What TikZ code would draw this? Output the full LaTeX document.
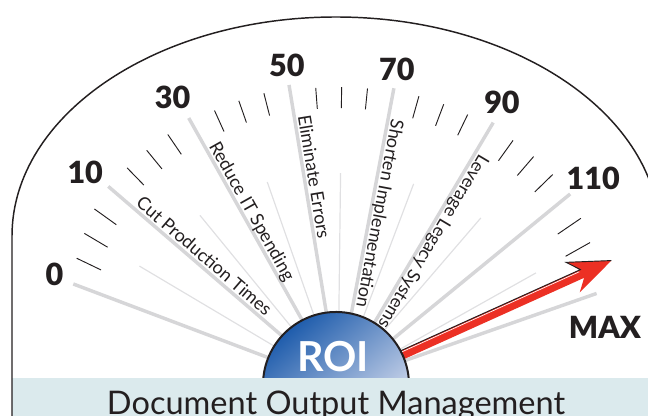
\documentclass[tikz,border=0pt]{standalone}
\usepackage{fontspec}
\setmainfont{Lato}
\newfontfamily\heavyfont{Lato Black}
\usepackage{tikz}

\definecolor{raygray}{RGB}{214,214,216}
\definecolor{thingray}{RGB}{224,224,226}
\definecolor{bandblue}{RGB}{219,234,237}
\definecolor{roiblue}{RGB}{30,92,172}
\definecolor{roilight}{RGB}{236,236,246}
\definecolor{needlered}{RGB}{236,48,36}
\definecolor{inkdark}{RGB}{35,31,32}

\tikzset{
  majorray/.style={raygray, line width=2.6pt},
  minorray/.style={thingray, line width=0.9pt},
  tickmark/.style={inkdark, line width=0.7pt},
  scalenum/.style={inkdark, font=\fontsize{22.9}{24}\selectfont\heavyfont, inner sep=0pt},
  raylabel/.style={inkdark, font=\fontsize{13.5}{16}\selectfont, anchor=base west, inner sep=0pt},
  roitext/.style={white, font=\fontsize{31}{32}\selectfont\bfseries, inner sep=0pt},
  bandtext/.style={inkdark, font=\fontsize{24.4}{26}\selectfont, inner sep=0pt},
}

\begin{document}
\begin{tikzpicture}[x=0.75pt,y=0.75pt,yscale=-1,xscale=1]
        \useasboundingbox (0,0) rectangle (648,416);
        \clip (0,0) rectangle (648,416);
        
        % Gauge: origin at the needle pivot, y pointing up
        \begin{scope}[shift={(338,384)}, yscale=-1, rotate=-0.7]
          % Major and minor rays
          \foreach \a/\r in {160/283, 140/303, 120/305, 100/303, 80/301, 60/304, 40/300, 20/274}
            \draw[majorray] (\a:\r) -- (\a:30);
          \foreach \a/\r in {150/231, 130/218, 110/214, 90/211, 70/214, 50/219, 30/227}
            \draw[minorray] (\a:\r) -- (\a:30);
          % Tick marks
          \foreach \a/\ri/\ro in {155/263/290, 150/268/295, 145/273/300,
                                  135/278/302, 130/278/302, 125/278/302,
                                  115/277/300, 110/277/300, 105/277/300,
                                  95/276/297, 90/276/297, 85/276/297,
                                  75/276/299, 70/276/299, 65/276/299,
                                  55/275/300, 50/275/300, 45/275/300,
                                  35/266/294, 30/261/289, 25/256/284}
            \draw[tickmark] (\a:\ri) -- (\a:\ro);
          % Scale numbers
          \foreach \a/\r/\v in {159.5/304/0, 140.7/330/10, 120.7/331/30, 99.8/323/50,
                                80.1/320/70, 60.5/326/90, 39.6/328/110}
            \node[scalenum] (num\v) at (\a:\r) {\v};
          % Ray labels
          \foreach \a/\t/\n in {140/Cut Production Times/cut, 120/Reduce IT Spending/reduce,
                                100/Eliminate Errors/errors, 80/Shorten Implementation/shorten,
                                60/Leverage Legacy Systems/legacy}
            \node[raylabel, rotate=\a-180.7] (lbl\n) at (\a-0.75:271) {\t};
          % Needle
          \begin{scope}[rotate=25]
            \fill[needlered] (0,-4.5) -- (268,-4.5) -- (258,-16) -- (300,0) -- (258,17) -- (268,4.5) -- (0,4.5) -- cycle;
            \draw[inkdark, line width=0.7pt] (0,4.5) -- (268,4.5) -- (258,17) -- (300,0);
            \draw[white, line width=0.5pt] (0,3) -- (266,3);
          \end{scope}
          % ROI dome
          \shade[top color=roiblue, bottom color=roilight, shading angle=40] (-2,-1) circle (73);
          \draw[inkdark, line width=1.5pt] (-2,-1) circle (73);
        \end{scope}
        
        % Text Node
        \node[roitext] (roi) at (333,357) {ROI};
        
        % Band
        \fill[bandblue] (12,378) rectangle (648,416);
        % Text Node
        \node[bandtext, anchor=base] (dom) at (336,414) {Document Output Management};
        
        % Outline
        \draw[inkdark, line width=1.1pt] (12,416) -- (12,236) arc[start angle=180, end angle=360, x radius=324, y radius=219] -- (660,416);
        
        % Text Node
        \node[scalenum] (max) at (605,327) {MAX};
        
\end{tikzpicture}
\end{document}
